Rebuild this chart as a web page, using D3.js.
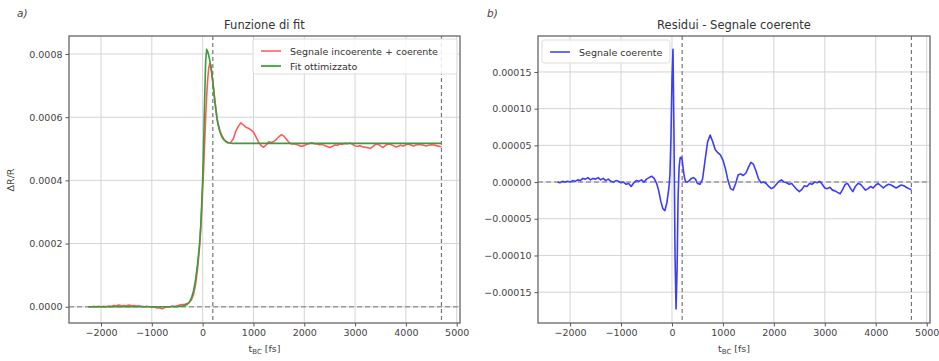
<!DOCTYPE html>
<html>
<head>
<meta charset="utf-8">
<script src="https://cdn.jsdelivr.net/npm/d3@7"></script>
<style>
  html, body { margin: 0; padding: 0; background: #fff; }
  svg { display: block; font-family: "DejaVu Sans", sans-serif; }
</style>
</head>
<body>
<svg id="chart" width="939" height="361"></svg>
<script>
// Pump-probe delay axis (fs)
const delays = [
  -2250,-2200,-2150,-2100,-2050,-2000,-1950,-1900,-1850,-1800,-1750,-1700,-1650,-1600,-1550,-1500,
  -1450,-1400,-1350,-1300,-1250,-1200,-1150,-1100,-1050,-1000,-950,-900,-850,-800,-750,-700,-650,
  -600,-550,-500,-450,-400,-350,-300,-260,-220,-180,-140,-100,-60,-40,-20,0,20,40,60,80,100,120,140,
  160,180,200,220,240,260,280,300,340,380,420,460,500,550,600,650,700,750,800,850,900,950,1000,1050,
  1100,1150,1200,1250,1300,1350,1400,1450,1500,1550,1600,1650,1700,1750,1800,1850,1900,1950,2000,
  2050,2100,2150,2200,2250,2300,2350,2400,2450,2500,2550,2600,2650,2700,2750,2800,2850,2900,2950,
  3000,3050,3100,3150,3200,3250,3300,3350,3400,3450,3500,3550,3600,3650,3700,3750,3800,3850,3900,
  3950,4000,4050,4100,4150,4200,4250,4300,4350,4400,4450,4500,4550,4600,4650,4700
];

// Measured ΔR/R: incoherent + coherent signal
const signal = [
  0,-1e-6,1e-6,0,1e-6,0,1e-6,0,2e-6,1e-6,4e-6,3e-6,5e-6,3e-6,4e-6,3e-6,
  5e-6,3e-6,4e-6,2e-6,3e-6,1e-6,0,1e-6,0,-2e-6,-1e-6,-4e-6,-3e-6,-6e-6,-3e-6,0,-1e-6,
  2e-6,1e-6,3e-6,5e-6,7e-6,8e-6,10e-6,14e-6,22e-6,38e-6,70e-6,120e-6,190e-6,240e-6,300e-6,370e-6,440e-6,520e-6,600e-6,670e-6,720e-6,755e-6,770e-6,
  765e-6,745e-6,715e-6,685e-6,655e-6,625e-6,600e-6,580e-6,558e-6,542e-6,530e-6,522e-6,518e-6,520e-6,530e-6,555e-6,570e-6,582e-6,576e-6,568e-6,565e-6,560e-6,553e-6,538e-6,
  522e-6,510e-6,505e-6,512e-6,522e-6,520e-6,523e-6,530e-6,538e-6,545e-6,540e-6,530e-6,520e-6,515e-6,516e-6,514e-6,510e-6,508e-6,510e-6,
  514e-6,517e-6,519e-6,516e-6,515e-6,513e-6,514e-6,510e-6,507e-6,504e-6,507e-6,512e-6,511e-6,515e-6,514e-6,517e-6,516e-6,518e-6,514e-6,
  509e-6,508e-6,510e-6,506e-6,505e-6,503e-6,501e-6,507e-6,514e-6,515e-6,509e-6,504e-6,511e-6,515e-6,514e-6,510e-6,506e-6,508e-6,511e-6,
  509e-6,513e-6,515e-6,512e-6,509e-6,512e-6,514e-6,513e-6,511e-6,509e-6,511e-6,513e-6,512e-6,510e-6,508e-6,506e-6
];

// Optimised fit of the incoherent response
const fit = [
  0,0,0,0,0,0,0,0,0,0,0,0,0,0,0,0,
  0,0,0,0,0,0,0,0,0,0,0,0,0,0,0,0,0,
  0,0,0,1e-6,2e-6,4e-6,8e-6,15e-6,28e-6,50e-6,85e-6,135e-6,200e-6,250e-6,320e-6,400e-6,520e-6,660e-6,780e-6,815e-6,808e-6,795e-6,780e-6,
  760e-6,735e-6,710e-6,680e-6,650e-6,625e-6,600e-6,580e-6,553e-6,537e-6,528e-6,523e-6,520e-6,518e-6,517e-6,517e-6,517e-6,517e-6,517e-6,517e-6,517e-6,517e-6,517e-6,517e-6,
  517e-6,517e-6,517e-6,517e-6,517e-6,517e-6,517e-6,517e-6,517e-6,517e-6,517e-6,517e-6,517e-6,517e-6,517e-6,517e-6,517e-6,517e-6,517e-6,
  517e-6,517e-6,517e-6,517e-6,517e-6,517e-6,517e-6,517e-6,517e-6,517e-6,517e-6,517e-6,517e-6,517e-6,517e-6,517e-6,517e-6,517e-6,517e-6,
  517e-6,517e-6,517e-6,517e-6,517e-6,517e-6,517e-6,517e-6,517e-6,517e-6,517e-6,517e-6,517e-6,517e-6,517e-6,517e-6,517e-6,517e-6,517e-6,
  517e-6,517e-6,517e-6,517e-6,517e-6,517e-6,517e-6,517e-6,517e-6,517e-6,517e-6,517e-6,517e-6,517e-6,517e-6,517e-6
];

// Residuals: coherent part of the signal
const coherent = [
  0,-1e-6,1e-6,0,1e-6,0,2e-6,1e-6,3e-6,2e-6,5e-6,4e-6,6e-6,3e-6,5e-6,4e-6,
  6e-6,3e-6,5e-6,2e-6,4e-6,1e-6,0,2e-6,1e-6,-1e-6,0,-3e-6,-2e-6,-6e-6,-1e-6,2e-6,1e-6,
  3e-6,0,4e-6,6e-6,8e-6,5e-6,-2e-6,-12e-6,-26e-6,-36e-6,-39e-6,-28e-6,-8e-6,10e-6,60e-6,140e-6,181e-6,60e-6,-100e-6,-173e-6,-120e-6,-20e-6,20e-6,
  33e-6,34e-6,30e-6,18e-6,8e-6,2e-6,0,0,2e-6,5e-6,6e-6,4e-6,-2e-6,-3e-6,4e-6,30e-6,55e-6,64e-6,55e-6,44e-6,40e-6,37e-6,30e-6,18e-6,
  2e-6,-9e-6,-11e-6,-2e-6,10e-6,11e-6,9e-6,12e-6,20e-6,27e-6,24e-6,15e-6,4e-6,-1e-6,0,-2e-6,-6e-6,-9e-6,-7e-6,
  -3e-6,1e-6,3e-6,0,-1e-6,-3e-6,-2e-6,-6e-6,-10e-6,-13e-6,-10e-6,-5e-6,-6e-6,-2e-6,-3e-6,0,-1e-6,1e-6,-3e-6,
  -8e-6,-9e-6,-7e-6,-11e-6,-12e-6,-14e-6,-16e-6,-10e-6,-3e-6,-2e-6,-8e-6,-13e-6,-6e-6,-2e-6,-3e-6,-7e-6,-11e-6,-9e-6,-6e-6,
  -8e-6,-4e-6,-2e-6,-5e-6,-8e-6,-5e-6,-3e-6,-4e-6,-6e-6,-8e-6,-6e-6,-4e-6,-5e-6,-7e-6,-9e-6,-10e-6
];

const xTicks = [-2000, -1000, 0, 1000, 2000, 3000, 4000, 5000];
const yTicksFit = [0, 0.0002, 0.0004, 0.0006, 0.0008];
const yTicksRes = [-0.00015, -0.0001, -0.00005, 0, 0.00005, 0.0001, 0.00015];
const markers = [200, 4700];   // vertical reference delays (fs)

const svg = d3.select("#chart");
const minus = s => s.replace("-", "\u2212");

function panel(opts) {
  const { left, right, top, bottom, yDomain, yTicks, yFmt, title, tag, tagX, series, legend, legendBox } = opts;
  const x = d3.scaleLinear().domain([-2630, 5065]).range([left, right]);
  const y = d3.scaleLinear().domain(yDomain).range([bottom, top]);
  const g = svg.append("g");

  // grid
  g.append("g").selectAll("line").data(xTicks).join("line")
    .attr("x1", d => x(d)).attr("x2", d => x(d)).attr("y1", top).attr("y2", bottom)
    .attr("stroke", "#d4d4d4").attr("stroke-width", 1);
  g.append("g").selectAll("line").data(yTicks).join("line")
    .attr("x1", left).attr("x2", right).attr("y1", d => y(d)).attr("y2", d => y(d))
    .attr("stroke", "#d4d4d4").attr("stroke-width", 1);

  // dashed reference lines
  g.append("line").attr("x1", left).attr("x2", right).attr("y1", y(0)).attr("y2", y(0))
    .attr("stroke", "#9a9a9a").attr("stroke-width", 1.4).attr("stroke-dasharray", "5,3");
  g.append("g").selectAll("line").data(markers).join("line")
    .attr("x1", d => x(d)).attr("x2", d => x(d)).attr("y1", top).attr("y2", bottom)
    .attr("stroke", "#777").attr("stroke-width", 1.2).attr("stroke-dasharray", "4,3");

  // data lines
  const line = vals => d3.line().x((d, i) => x(delays[i])).y(d => y(d))(vals);
  series.forEach(s => {
    g.append("path").attr("d", line(s.values)).attr("fill", "none")
      .attr("stroke", s.color).attr("stroke-width", 1.6).attr("stroke-linejoin", "round");
  });

  // axes
  const xAxis = d3.axisBottom(x).tickValues(xTicks).tickSize(3.5).tickPadding(3)
    .tickFormat(d => minus(String(d)));
  const ax = g.append("g").attr("transform", `translate(0,${bottom})`).call(xAxis);
  const yAxis = d3.axisLeft(y).tickValues(yTicks).tickSize(3.5).tickPadding(3)
    .tickFormat(d => minus(d3.format(yFmt)(d)));
  const ay = g.append("g").attr("transform", `translate(${left},0)`).call(yAxis);
  [ax, ay].forEach(a => {
    a.select(".domain").remove();
    a.selectAll("line").attr("stroke", "#555");
    a.selectAll("text").attr("fill", "#444").attr("font-size", 9.5)
      .attr("font-family", "DejaVu Sans, sans-serif");
  });

  // frame
  g.append("rect").attr("x", left).attr("y", top).attr("width", right - left).attr("height", bottom - top)
    .attr("fill", "none").attr("stroke", "#666").attr("stroke-width", 1.3);

  // titles
  g.append("text").attr("x", (left + right) / 2).attr("y", top - 7).attr("text-anchor", "middle")
    .attr("font-size", 11.5).attr("fill", "#333").text(title);
  g.append("text").attr("x", tagX).attr("y", 17).attr("font-size", 10.5)
    .attr("font-style", "italic").attr("fill", "#444").text(tag);

  const xl = g.append("text").attr("x", (left + right) / 2).attr("y", 352)
    .attr("text-anchor", "middle").attr("font-size", 9.5).attr("fill", "#444");
  xl.append("tspan").text("t");
  xl.append("tspan").attr("font-size", 7).attr("dy", 2).text("BC");
  xl.append("tspan").attr("dy", -2).text(" [fs]");

  // legend
  const lg = g.append("g");
  lg.append("rect").attr("x", legendBox.x).attr("y", legendBox.y).attr("width", legendBox.w)
    .attr("height", legendBox.h).attr("rx", 2.5).attr("fill", "rgba(255,255,255,0.85)")
    .attr("stroke", "#ddd").attr("stroke-width", 1);
  legend.forEach((item, i) => {
    const ly = legendBox.y + 12 + i * 15;
    lg.append("line").attr("x1", legendBox.x + 8).attr("x2", legendBox.x + 28)
      .attr("y1", ly).attr("y2", ly).attr("stroke", item.color).attr("stroke-width", 2);
    lg.append("text").attr("x", legendBox.x + 37).attr("y", ly + 3.5).attr("font-size", 9.5)
      .attr("fill", "#333").text(item.label);
  });
  return { x, y, g };
}

const redC = "#ff5a5a", greenC = "#3c9c3c", blueC = "#3c3cff";

const pa = panel({
  left: 69, right: 460, top: 36, bottom: 323,
  yDomain: [-0.0000515, 0.000857], yTicks: yTicksFit, yFmt: ".4f",
  title: "Funzione di fit", tag: "a)", tagX: 17,
  series: [{ values: signal, color: redC }, { values: fit, color: greenC }],
  legend: [{ label: "Segnale incoerente + coerente", color: "#ff8080" },
           { label: "Fit ottimizzato", color: "#4caf4c" }],
  legendBox: { x: 253, y: 39, w: 204, h: 35 }
});
pa.g.append("text").attr("transform", "translate(14,180) rotate(-90)").attr("text-anchor", "middle")
  .attr("font-size", 9.5).attr("fill", "#444").text("\u0394R/R");

panel({
  left: 538, right: 930, top: 36, bottom: 323,
  yDomain: [-0.000192, 0.000199], yTicks: yTicksRes, yFmt: ".5f",
  title: "Residui - Segnale coerente", tag: "b)", tagX: 487,
  series: [{ values: coherent, color: blueC }],
  legend: [{ label: "Segnale coerente", color: "#6a6aff" }],
  legendBox: { x: 542, y: 40, w: 128, h: 23 }
});
</script>
</body>
</html>
